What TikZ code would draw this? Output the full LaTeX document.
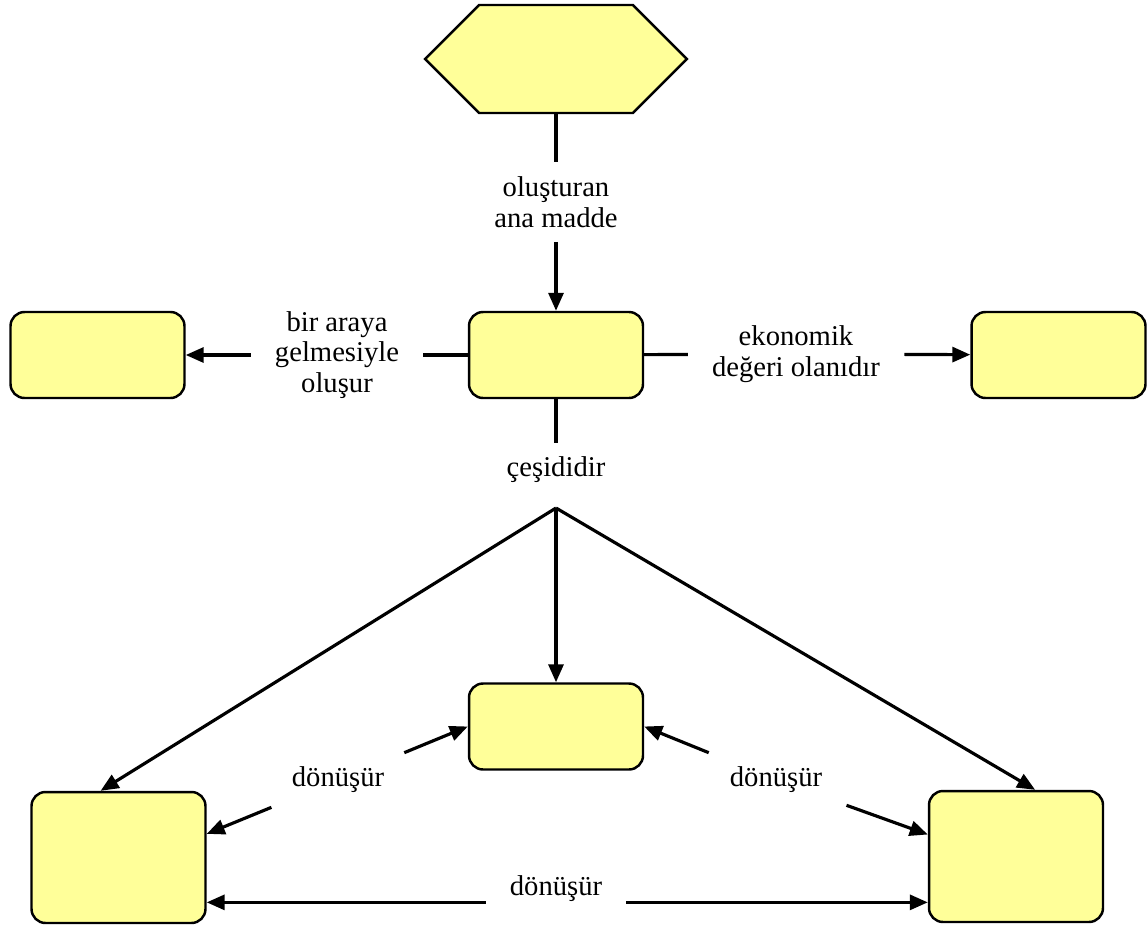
\documentclass[tikz,border=0pt]{standalone}
\usepackage{fontspec}
\setmainfont{Liberation Serif}
\newfontfamily\serifyazi{Liberation Serif}
\usetikzlibrary{arrows.meta,shapes.symbols}
\definecolor{sari}{HTML}{FFFF99}

\begin{document}
\begin{tikzpicture}[x=0.02cm,y=-0.02cm,
	kutu/.style={draw,line width=1.4pt,fill=sari,rounded corners=0.28cm,minimum width=3.48cm,minimum height=1.72cm,inner sep=0pt},
	hexa/.style={draw,line width=1.4pt,fill=sari,signal,signal to=east and west,signal pointer angle=90,minimum width=5.24cm,minimum height=2.16cm,inner sep=0pt},
	lbl/.style={font=\serifyazi\fontsize{16.3}{17.5}\selectfont,align=center,inner xsep=0.48cm,inner ysep=0.28cm},
	lin/.style={line width=1.8pt},
	ok/.style={lin,-{Triangle[length=0.36cm,width=0.3cm]}}]
		\useasboundingbox (0,0) rectangle (1148,926); %page size
		
		\node[hexa] (hex) at (556,59) {}; %top hexagon
		\node[kutu] (orta) at (556,355) {}; %middle box
		\node[kutu] (sol) at (97.5,355) {}; %left box
		\node[kutu] (sag) at (1058.5,355) {}; %right box
		
		\node[kutu] (altorta) at (556,726.5) {}; %bottom middle box
		\node[kutu,minimum height=2.62cm] (altsol) at (118.5,857.5) {}; %bottom left box
		\node[kutu,minimum height=2.62cm] (altsag) at (1016,856.5) {}; %bottom right box
		
		\node[lbl] (olusturan) at (556,202) {oluşturan\\ana madde};
		\node[lbl] (biraraya) at (337,355) {bir araya\\gelmesiyle\\oluşur};
		\node[lbl] (ekonomik) at (796,354) {ekonomik\\değeri olanıdır};
		\node[lbl] (cesit) at (556,470) {çeşididir};
		\node[lbl] (donsol) at (338,780) {dönüşür};
		\node[lbl] (donsag) at (776,780) {dönüşür};
		\node[lbl,anchor=base,text depth=0pt,inner ysep=0.14cm] (donalt) at (556,895) {dönüşür};
		\coordinate (dal) at (556,508); %branch point
		
		\draw[lin] (hex) -- (olusturan);
		\draw[ok] (olusturan) -- (orta);
		\draw[lin] (orta) -- (biraraya);
		\draw[ok] (biraraya) -- (sol);
		\draw[lin] (orta) -- (ekonomik);
		\draw[ok] (ekonomik) -- (sag);
		\draw[lin] (orta) -- (cesit);
		
		% three kinds
		\draw[ok] (dal) -- (altorta);
		\draw[ok] (dal) -- (altsol.105);
		\draw[ok] (dal) -- (altsag.74);
		
		\draw[ok] (donsol) -- (altorta.west);
		\draw[ok] (donsol) -- (altsol.15);
		\draw[ok] (donsag) -- (altorta.east);
		\draw[ok] (donsag) -- (altsag.166);
		\draw[ok] (donalt.south west) -- (altsol.east |- donalt.south west);
		\draw[ok] (donalt.south east) -- (altsag.west |- donalt.south east);
\end{tikzpicture}
\end{document}
